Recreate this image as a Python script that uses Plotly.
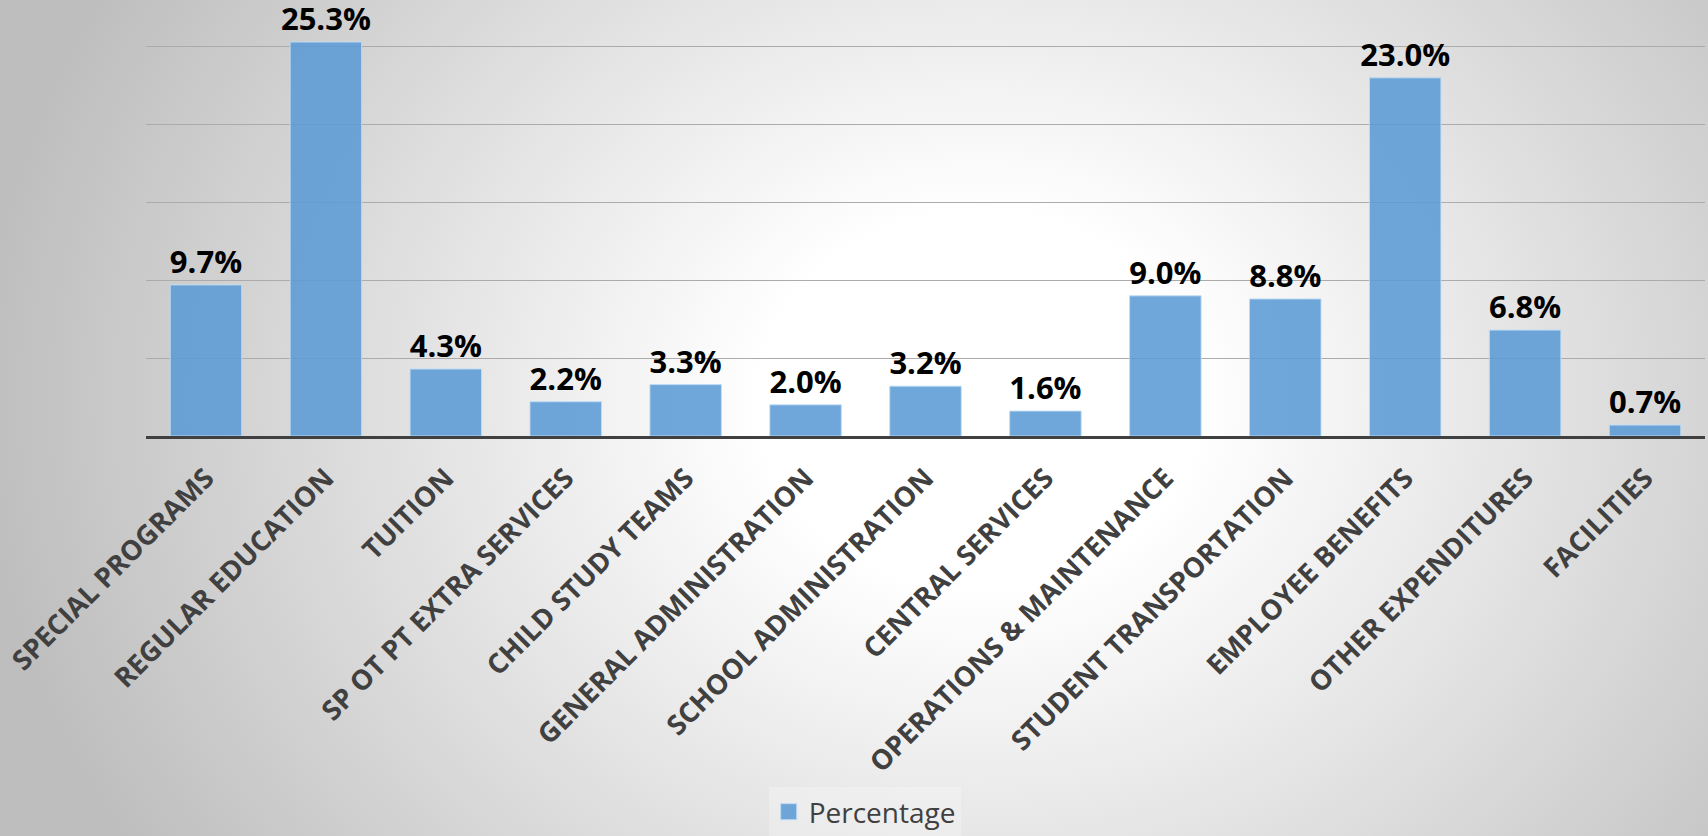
import base64
import plotly.graph_objects as go

# Expenditure categories and their share of the total budget (%)
categories = [
    "SPECIAL PROGRAMS", "REGULAR EDUCATION", "TUITION", "SP OT PT EXTRA SERVICES",
    "CHILD STUDY TEAMS", "GENERAL ADMINISTRATION", "SCHOOL ADMINISTRATION",
    "CENTRAL SERVICES", "OPERATIONS & MAINTENANCE", "STUDENT TRANSPORTATION",
    "EMPLOYEE BENEFITS", "OTHER EXPENDITURES", "FACILITIES",
]
percentages = [9.7, 25.3, 4.3, 2.2, 3.3, 2.0, 3.2, 1.6, 9.0, 8.8, 23.0, 6.8, 0.7]
series_name = "Percentage"

W, H = 1708, 836
ML, MR, MT, MB = 146, 3, 0, 400
PW, PH = W - ML - MR, H - MT - MB
PAD = 20  # backdrop overhang beyond the figure edges

BAR_RGBA = "rgba(91,155,213,0.88)"
BAR_EDGE = "rgba(190,220,245,0.9)"
TEXT_GREY = "#404040"

# Soft radial backdrop, white in the middle fading to grey at the edges
BW, BH = W + 2 * PAD, H + 2 * PAD
CX, CY = 980 + PAD, 400 + PAD
svg = f"""<svg xmlns='http://www.w3.org/2000/svg' width='{BW}' height='{BH}' viewBox='0 0 {BW} {BH}' preserveAspectRatio='none'>
<defs><radialGradient id='g' gradientUnits='userSpaceOnUse' cx='{CX}' cy='{CY}' r='1000'
 gradientTransform='translate({CX} {CY}) scale(1 0.85) translate({-CX} {-CY})'>
<stop offset='0' stop-color='#ffffff'/>
<stop offset='0.22' stop-color='#ffffff'/>
<stop offset='1' stop-color='#bebebe'/>
</radialGradient></defs>
<rect x='0' y='0' width='{BW}' height='{BH}' fill='url(#g)'/>
</svg>"""
bg_uri = "data:image/svg+xml;base64," + base64.b64encode(svg.encode()).decode()

fig = go.Figure()
fig.add_trace(go.Bar(
    x=categories,
    y=percentages,
    marker=dict(color=BAR_RGBA, line=dict(color=BAR_EDGE, width=1)),
    texttemplate="%{y:.1f}%",
    textposition="outside",
    constraintext="none",
    cliponaxis=False,
    textfont=dict(family="Open Sans", size=31, color="#000000", weight="bold"),
    showlegend=False,
))
# Legend entry for the series
fig.add_trace(go.Scatter(
    x=[None], y=[None], mode="markers", name=series_name,
    marker=dict(symbol="square", size=16, color=BAR_RGBA,
                line=dict(color=BAR_EDGE, width=1)),
))

fig.update_layout(
    width=W, height=H,
    margin=dict(l=ML, r=MR, t=MT, b=MB, pad=0, autoexpand=False),
    paper_bgcolor="#d8d8d8",
    plot_bgcolor="rgba(0,0,0,0)",
    bargap=0.404,
    images=[dict(
        source=bg_uri, xref="paper", yref="paper",
        x=-(ML + PAD) / PW, y=1 + (MT + PAD) / PH, sizex=BW / PW, sizey=BH / PH,
        xanchor="left", yanchor="top", sizing="stretch", layer="below",
    )],
    legend=dict(
        orientation="h", x=0.461, xanchor="center", y=(PH - 837 + MT) / PH, yanchor="bottom",
        font=dict(family="Open Sans", size=28, color=TEXT_GREY),
        bgcolor="rgba(255,255,255,0.25)", itemwidth=30,
    ),
    xaxis=dict(
        showline=True, linecolor=TEXT_GREY, linewidth=3, automargin=False,
        tickangle=-45, ticks="", ticklabelstandoff=12,
        tickfont=dict(family="Open Sans", size=27.5, color=TEXT_GREY, weight="bold"),
        showgrid=False,
    ),
    yaxis=dict(
        range=[0, 28.0], dtick=5, showticklabels=False, automargin=False,
        showgrid=True, gridcolor="#ababab", gridwidth=1,
        zeroline=False, showline=False,
    ),
)

fig.write_html("out.html")
